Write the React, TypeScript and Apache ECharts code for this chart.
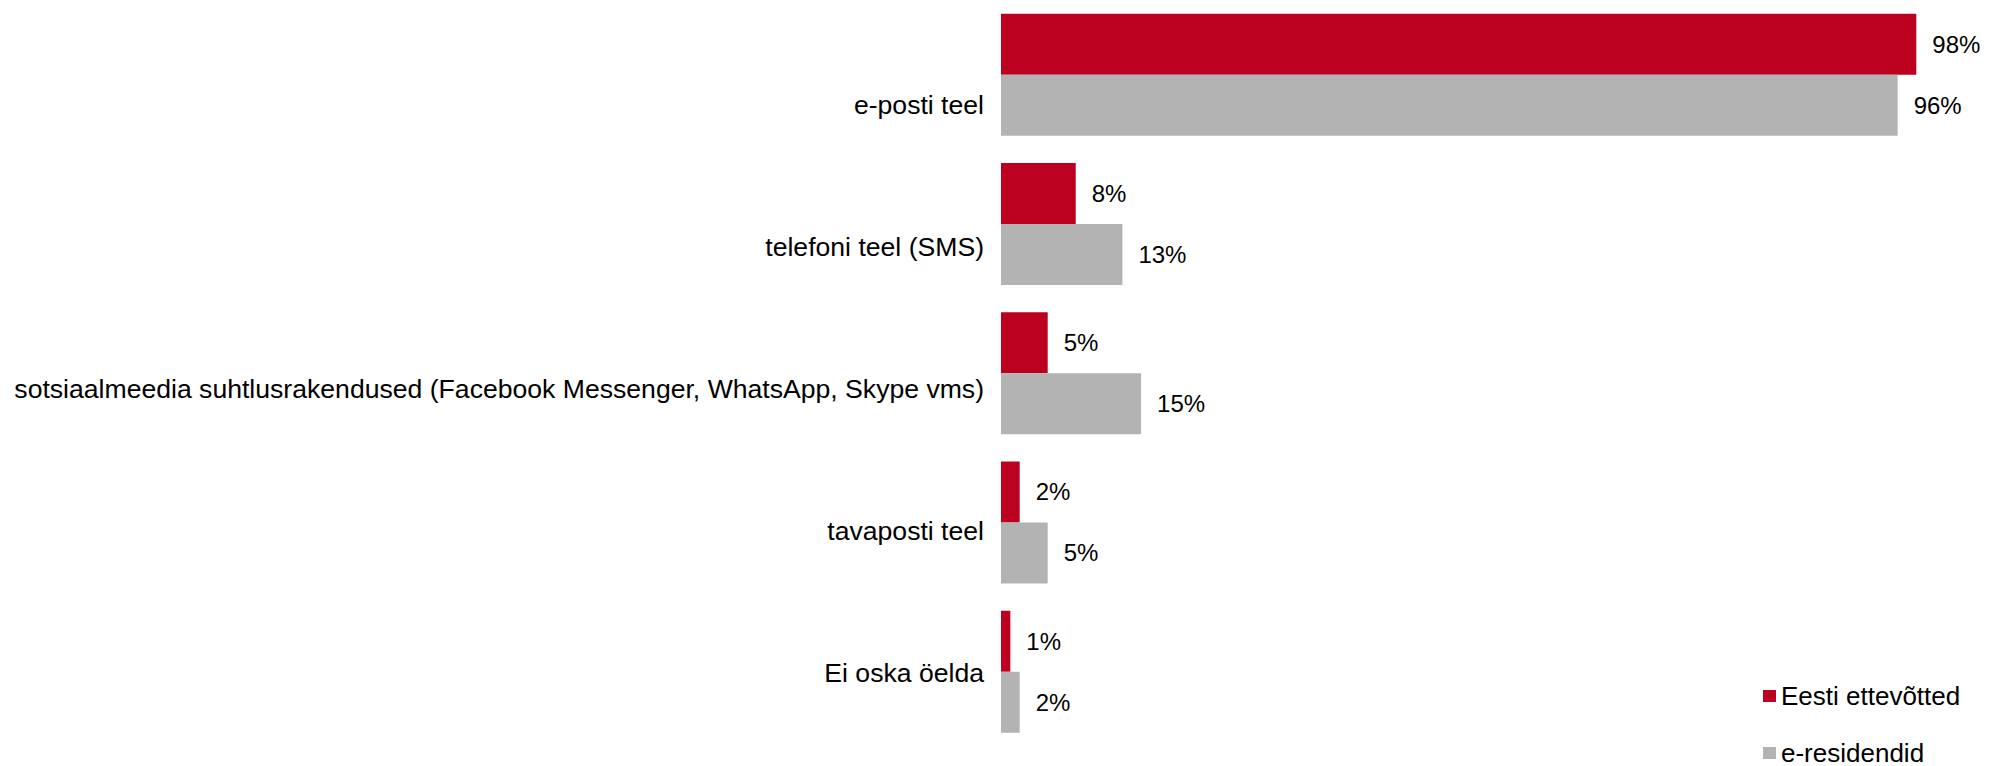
import React, { useEffect, useRef } from "react";
import * as echarts from "echarts";

const categories = [
  "e-posti teel",
  "telefoni teel (SMS)",
  "sotsiaalmeedia suhtlusrakendused (Facebook Messenger, WhatsApp, Skype vms)",
  "tavaposti teel",
  "Ei oska öelda",
];
const seriesNames = ["Eesti ettevõtted", "e-residendid"];
const eestiValues = [98, 8, 5, 2, 1];
const residentValues = [96, 13, 15, 5, 2];
const colors = ["#BC0020", "#B3B3B3"];

const FONT = "'Liberation Sans', Arial, sans-serif";

export default function App() {
  const ref = useRef<HTMLDivElement>(null);
  useEffect(() => {
    document.body.style.margin = "0";
    if (!ref.current) return;
    const chart = echarts.init(ref.current, undefined, { renderer: "svg" });
    const labelCfg = {
      show: true,
      position: "right" as const,
      distance: 16,
      formatter: "{c}%",
      color: "#000",
      fontSize: 24,
      fontFamily: FONT,
    };
    const legendBase = {
      orient: "vertical" as const,
      left: 1758,
      itemWidth: 13,
      itemHeight: 12,
      icon: "rect",
      textStyle: { fontSize: 26, color: "#000", fontFamily: FONT, lineHeight: 24 },
    };
    chart.setOption({
      animation: false,
      textStyle: { fontFamily: FONT },
      grid: [
        { left: 1001, right: 55, top: -2.6, height: 749, containLabel: false },
        { left: 1001, right: 55, top: 34, height: 710, containLabel: false },
      ],
      xAxis: [
        { type: "value", gridIndex: 0, min: 0, max: 100, show: false },
        { type: "value", gridIndex: 1, min: 0, max: 100, show: false },
      ],
      yAxis: [
        {
          type: "category",
          gridIndex: 0,
          data: categories,
          inverse: true,
          axisLine: { show: false },
          axisTick: { show: false },
          axisLabel: { show: false },
          splitLine: { show: false },
        },
        {
          type: "category",
          gridIndex: 1,
          data: categories,
          inverse: true,
          axisLine: { show: false },
          axisTick: { show: false },
          splitLine: { show: false },
          axisLabel: {
            show: true,
            margin: 17,
            color: "#000",
            fontSize: 26.6,
            fontFamily: FONT,
          },
        },
      ],
      legend: [
        { ...legendBase, top: 678, data: [seriesNames[0]] },
        { ...legendBase, top: 735, data: [seriesNames[1]] },
      ],
      series: [
        {
          name: seriesNames[0],
          type: "bar",
          xAxisIndex: 0,
          yAxisIndex: 0,
          data: eestiValues,
          barWidth: 61,
          barGap: "0%",
          itemStyle: { color: colors[0] },
          label: labelCfg,
        },
        {
          name: seriesNames[1],
          type: "bar",
          xAxisIndex: 0,
          yAxisIndex: 0,
          data: residentValues,
          barWidth: 61,
          barGap: "0%",
          itemStyle: { color: colors[1] },
          label: labelCfg,
        },
        {
          name: "_labels",
          type: "scatter",
          xAxisIndex: 1,
          yAxisIndex: 1,
          data: [],
          silent: true,
        },
      ],
    });
    return () => chart.dispose();
  }, []);
  return <div ref={ref} style={{ width: 1990, height: 766 }} />;
}
